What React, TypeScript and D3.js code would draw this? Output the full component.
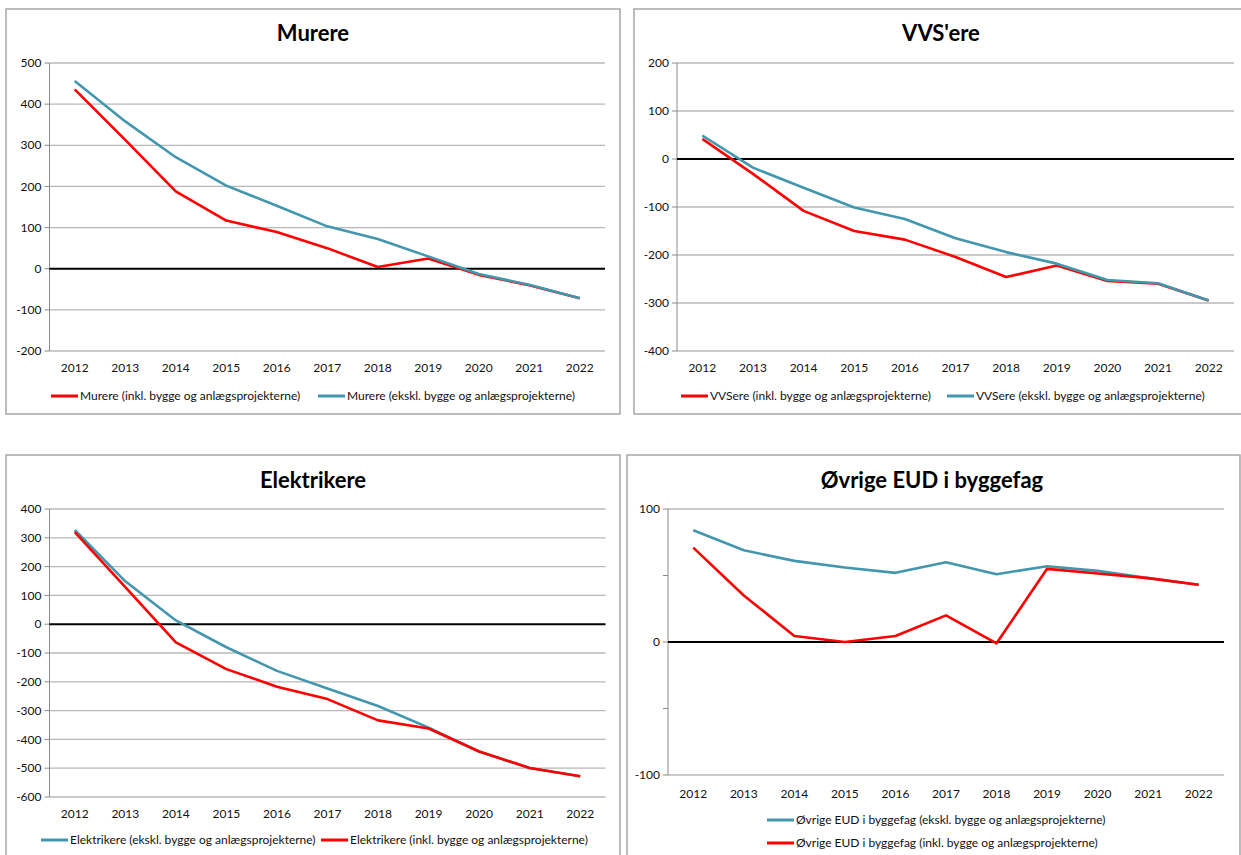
import * as d3 from 'd3'

// years on the x axis (shared by all four panels)
const years = ['2012', '2013', '2014', '2015', '2016', '2017', '2018', '2019', '2020', '2021', '2022']

// Murere
const murereInkl = [436, 313, 188, 117, 89, 50, 4, 25, -15, -40, -72]
const murereEkskl = [456, 358, 271, 202, 153, 103, 72, 30, -13, -39, -72]

// VVS'ere
const vvsInkl = [42, -31, -108, -150, -168, -204, -246, -222, -254, -260, -295]
const vvsEkskl = [49, -18, -60, -101, -125, -165, -194, -218, -252, -259, -295]

// Elektrikere
const elEkskl = [327, 149, 13, -80, -162, -223, -284, -359, -442, -499, -528]
const elInkl = [320, 129, -63, -156, -217, -260, -334, -362, -442, -499, -528]

// Øvrige EUD i byggefag
const ovrEkskl = [84, 69, 61, 56, 52, 60, 51, 57, 53.5, 48, 43]
const ovrInkl = [71, 35, 4.5, 0, 4.5, 20, -1, 55, 51.5, 48, 43]

const RED = '#ff0000'
const TEAL = '#4297ae'
const FONT = 'Lato, "Open Sans", sans-serif'

interface Series {
    name: string,
    values: number[],
    color: string
}

interface PanelProps {
    title: string,
    titleX: number,
    titleY: number,
    box: {x: number, y: number, w: number, h: number},
    plot: {left: number, right: number, top: number, bottom: number},
    domain: [number, number],
    labelTicks: number[],
    minorTicks?: number[],
    xLabelY: number,
    series: Series[],
    legend: {x: number, y: number}[]
}

const Panel = (props: PanelProps) => {
    const {plot} = props

    const x = d3
        .scaleBand()
        .domain(years)
        .range([plot.left, plot.right])

    const y = d3
        .scaleLinear()
        .domain(props.domain)
        .range([plot.bottom, plot.top])

    const line = (values: number[]) => d3
        .line<number>()
        .x((_, i) => (x(years[i]) as number) + x.bandwidth() / 2)
        .y(d => y(d))(values) as string

    const grid = props.labelTicks.filter(t => t !== 0).map(t => (
        <line key={'g' + t} x1={plot.left} x2={plot.right} y1={y(t)} y2={y(t)}
            stroke='#b8b8b8' strokeWidth={1.3} />
    ))

    const ticks = [...props.labelTicks, ...(props.minorTicks || [])].map(t => (
        <line key={'t' + t} x1={plot.left - 5} x2={plot.left} y1={y(t)} y2={y(t)}
            stroke='#8a8a8a' strokeWidth={1} />
    ))

    const yLabels = props.labelTicks.map(t => (
        <text key={'l' + t} x={plot.left - 8} y={y(t)} dy='0.35em' textAnchor='end'
            fontSize={12} fill='#111'>
            {t}
        </text>
    ))

    const xLabels = years.map(yr => (
        <text key={yr} x={(x(yr) as number) + x.bandwidth() / 2} y={props.xLabelY}
            textAnchor='middle' fontSize={12} fill='#111'>
            {yr}
        </text>
    ))

    const lines = props.series.map(s => (
        <path key={s.name} d={line(s.values)} fill='none' stroke={s.color}
            strokeWidth={2.6} strokeLinejoin='round' />
    ))

    const legend = props.series.map((s, i) => {
        const pos = props.legend[i]
        return (
            <g key={'lg' + i}>
                <line x1={pos.x} x2={pos.x + 27} y1={pos.y} y2={pos.y}
                    stroke={s.color} strokeWidth={3} />
                <text x={pos.x + 29} y={pos.y} dy='0.35em' fontSize={12} fill='#111'>
                    {s.name}
                </text>
            </g>
        )
    })

    return (
        <g fontFamily={FONT}>
            <rect x={props.box.x} y={props.box.y} width={props.box.w} height={props.box.h}
                fill='#fff' stroke='#a0a0a0' strokeWidth={1.4} />
            <text x={props.titleX} y={props.titleY} textAnchor='middle' fontSize={22}
                fontWeight='bold' fill='#000'>
                {props.title}
            </text>
            {grid}
            <line x1={plot.left} x2={plot.left} y1={plot.top} y2={plot.bottom}
                stroke='#8a8a8a' strokeWidth={1} />
            {ticks}
            <line x1={plot.left} x2={plot.right} y1={y(0)} y2={y(0)}
                stroke='#000' strokeWidth={2} />
            {yLabels}
            {xLabels}
            {lines}
            {legend}
        </g>
    )
}

const App = () => {
    return (
        <svg width={1241} height={855} style={{position: 'absolute', left: 0, top: 0}}>
            <rect x={0} y={0} width={1241} height={855} fill='#fff' />
            <Panel
                title='Murere' titleX={313} titleY={41}
                box={{x: 6, y: 9, w: 614, h: 405}}
                plot={{left: 49.5, right: 605, top: 63, bottom: 351}}
                domain={[-200, 500]}
                labelTicks={[500, 400, 300, 200, 100, 0, -100, -200]}
                xLabelY={372}
                series={[
                    {name: 'Murere (inkl. bygge og anlægsprojekterne)', values: murereInkl, color: RED},
                    {name: 'Murere (ekskl. bygge og anlægsprojekterne)', values: murereEkskl, color: TEAL}
                ]}
                legend={[{x: 51, y: 396}, {x: 318, y: 396}]}
            />
            <Panel
                title="VVS'ere" titleX={941} titleY={41}
                box={{x: 634, y: 9, w: 620, h: 405}}
                plot={{left: 677, right: 1234, top: 63, bottom: 351}}
                domain={[-400, 200]}
                labelTicks={[200, 100, 0, -100, -200, -300, -400]}
                xLabelY={372}
                series={[
                    {name: 'VVSere (inkl. bygge og anlægsprojekterne)', values: vvsInkl, color: RED},
                    {name: 'VVSere (ekskl. bygge og anlægsprojekterne)', values: vvsEkskl, color: TEAL}
                ]}
                legend={[{x: 681, y: 396}, {x: 947, y: 396}]}
            />
            <Panel
                title='Elektrikere' titleX={313} titleY={488}
                box={{x: 6, y: 455, w: 614, h: 410}}
                plot={{left: 49.5, right: 605.5, top: 509, bottom: 797}}
                domain={[-600, 400]}
                labelTicks={[400, 300, 200, 100, 0, -100, -200, -300, -400, -500, -600]}
                xLabelY={818}
                series={[
                    {name: 'Elektrikere (ekskl. bygge og anlægsprojekterne)', values: elEkskl, color: TEAL},
                    {name: 'Elektrikere (inkl. bygge og anlægsprojekterne)', values: elInkl, color: RED}
                ]}
                legend={[{x: 41, y: 840}, {x: 321, y: 840}]}
            />
            <Panel
                title='Øvrige EUD i byggefag' titleX={932} titleY={488}
                box={{x: 627, y: 455, w: 613, h: 410}}
                plot={{left: 668, right: 1224, top: 509, bottom: 775}}
                domain={[-100, 100]}
                labelTicks={[100, 0, -100]}
                minorTicks={[50, -50]}
                xLabelY={798}
                series={[
                    {name: 'Øvrige EUD i byggefag (ekskl. bygge og anlægsprojekterne)', values: ovrEkskl, color: TEAL},
                    {name: 'Øvrige EUD i byggefag (inkl. bygge og anlægsprojekterne)', values: ovrInkl, color: RED}
                ]}
                legend={[{x: 767, y: 820}, {x: 767, y: 843}]}
            />
        </svg>
    )
}

export default App
